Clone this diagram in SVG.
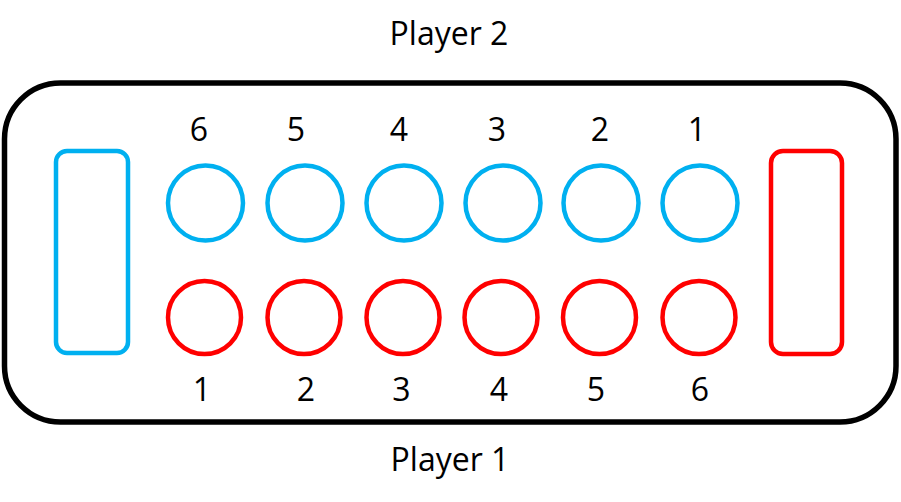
<svg xmlns="http://www.w3.org/2000/svg" width="901" height="502" viewBox="0 0 901 502">
<style>
.b{fill:none;stroke:#00B0F0;stroke-width:4.5}
.r{fill:none;stroke:#FF0000;stroke-width:4.5}
text{font-family:"Open Sans","Liberation Sans",sans-serif;font-size:32px;fill:#000;text-anchor:middle}
</style>
<rect id="board" x="4.5" y="83" width="891.5" height="339" rx="56" fill="none" stroke="#000" stroke-width="5.5"/>
<text x="449" y="45">Player 2</text>
<text x="450" y="471">Player 1</text>
<g id="store2"><rect class="b" x="56" y="151" width="72" height="202" rx="11"/></g>
<g id="store1"><rect class="r" x="771" y="151" width="71" height="203" rx="12"/></g>
<g id="top">
<g id="t6"><circle class="b" cx="205.5" cy="203" r="37.5"/><text x="199" y="141">6</text></g>
<g id="t5"><circle class="b" cx="305" cy="203" r="37.5"/><text x="296" y="141">5</text></g>
<g id="t4"><circle class="b" cx="404" cy="203" r="37.5"/><text x="399" y="141">4</text></g>
<g id="t3"><circle class="b" cx="503" cy="203" r="37.5"/><text x="497" y="141">3</text></g>
<g id="t2"><circle class="b" cx="601" cy="203" r="37.5"/><text x="600" y="141">2</text></g>
<g id="t1"><circle class="b" cx="700" cy="203" r="37.5"/><text x="697" y="141">1</text></g>
</g>
<g id="bottom">
<g id="b1"><circle class="r" cx="204.5" cy="317.5" r="36.5"/><text x="202" y="401">1</text></g>
<g id="b2"><circle class="r" cx="304" cy="317.5" r="36.5"/><text x="306" y="401">2</text></g>
<g id="b3"><circle class="r" cx="403" cy="317.5" r="36.5"/><text x="401.5" y="401">3</text></g>
<g id="b4"><circle class="r" cx="501" cy="317.5" r="36.5"/><text x="499" y="401">4</text></g>
<g id="b5"><circle class="r" cx="599.5" cy="317.5" r="36.5"/><text x="596" y="401">5</text></g>
<g id="b6"><circle class="r" cx="699" cy="317.5" r="36.5"/><text x="700" y="401">6</text></g>
</g>
<g id="connectors"/>
</svg>
